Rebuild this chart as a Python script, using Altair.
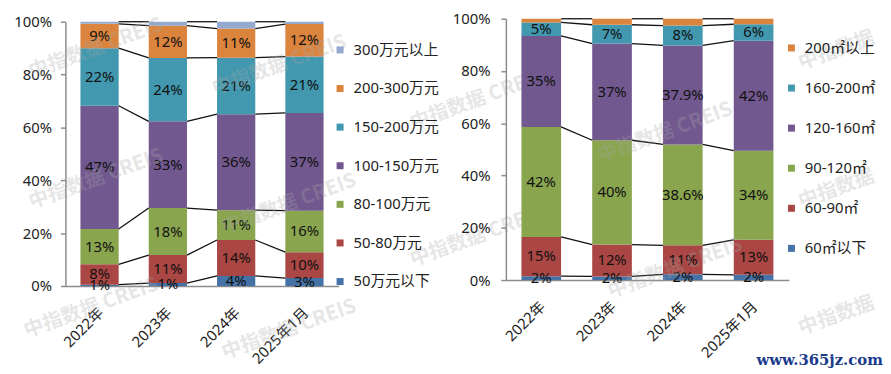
import altair as alt
import pandas as pd

FONT = "Noto Sans, Noto Sans CJK SC"
CJK = "Noto Sans CJK SC"

years = ["2022年", "2023年", "2024年", "2025年1月"]

# ---- left panel: total price segments (bottom -> top) ----
price_cats = ["50万元以下", "50-80万元", "80-100万元", "100-150万元",
              "150-200万元", "200-300万元", "300万元以上"]
price_colors = ["#4572A7", "#AA4643", "#89A54E", "#71588F",
                "#4198AF", "#DB843D", "#93A9CF"]
price_under50 = [0.5, 1.1, 3.8, 3.0]
price_50_80 = [7.7, 10.6, 13.6, 9.8]
price_80_100 = [13.4, 17.8, 11.3, 15.7]
price_100_150 = [46.6, 32.8, 36.3, 37.0]
price_150_200 = [21.8, 24.0, 21.4, 21.3]
price_200_300 = [9.2, 12.2, 11.0, 12.3]
price_over300 = [0.8, 1.5, 2.6, 0.9]
price_labels = [
    ["1%", "1%", "4%", "3%"],
    ["8%", "11%", "14%", "10%"],
    ["13%", "18%", "11%", "16%"],
    ["47%", "33%", "36%", "37%"],
    ["22%", "24%", "21%", "21%"],
    ["9%", "12%", "11%", "12%"],
    ["", "", "", ""],
]

# ---- right panel: floor area segments (bottom -> top) ----
area_cats = ["60㎡以下", "60-90㎡", "90-120㎡", "120-160㎡", "160-200㎡", "200㎡以上"]
area_colors = ["#4572A7", "#AA4643", "#89A54E", "#71588F", "#4198AF", "#DB843D"]
area_under60 = [1.5, 1.4, 2.2, 2.0]
area_60_90 = [15.0, 12.2, 11.1, 13.4]
area_90_120 = [42.1, 39.9, 38.6, 34.1]
area_120_160 = [34.8, 37.0, 37.9, 42.1]
area_160_200 = [5.2, 7.2, 7.6, 6.3]
area_over200 = [1.4, 2.3, 2.6, 2.1]
area_labels = [
    ["2%", "2%", "2%", "2%"],
    ["15%", "12%", "11%", "13%"],
    ["42%", "40%", "38.6%", "34%"],
    ["35%", "37%", "37.9%", "42%"],
    ["5%", "7%", "8%", "6%"],
    ["", "", "", ""],
]

price_series = [price_under50, price_50_80, price_80_100, price_100_150,
                price_150_200, price_200_300, price_over300]
area_series = [area_under60, area_60_90, area_90_120, area_120_160,
               area_160_200, area_over200]

HALF = 0.28  # half bar width in category units
AXIS_COLOR = "#8C8C8C"


def build_tables(cats, series, labels):
    rows, lines = [], []
    n = len(years)
    tops = []
    cum = [0.0] * n
    for k, cat in enumerate(cats):
        t = []
        for i in range(n):
            start = cum[i]
            end = cum[i] + series[k][i]
            cum[i] = end
            t.append(end)
            rows.append({"idx": i, "cat": cat, "start": start, "end": end,
                         "mid": (start + end) / 2, "label": labels[k][i],
                         "x0": i - HALF, "x1": i + HALF})
        tops.append(t)
    for k, cat in enumerate(cats):
        for i in range(n - 1):
            lines.append({"cat": cat, "xa": i + HALF, "xb": i + 1 - HALF,
                          "ya": tops[k][i], "yb": tops[k][i + 1]})
    return pd.DataFrame(rows), pd.DataFrame(lines)


def watermark(text, x, y, size=20):
    return alt.Chart(pd.DataFrame({"t": [text]})).mark_text(
        angle=340, font=CJK, fontSize=size, fontWeight="bold",
        color="#a8a8a8", opacity=0.28
    ).encode(x=alt.value(x), y=alt.value(y), text="t:N")


def panel(cats, colors, series, labels, width, height, yrange,
          legend_x, legend_y, row_pad, ylabel_pad, extras):
    bars_df, lines_df = build_tables(cats, series, labels)
    label_expr = "[" + ",".join("'" + y + "'" for y in years) + "][datum.value]"
    xscale = alt.Scale(domain=[-0.5, len(years) - 0.5], nice=False, zero=False)
    yscale = alt.Scale(domain=[0, 100], range=yrange, nice=False)
    xaxis = alt.Axis(values=list(range(len(years))), labelExpr=label_expr,
                     labelAngle=-45, grid=False, ticks=False, title=None,
                     domainColor=AXIS_COLOR, domainWidth=1.5, labelPadding=19,
                     labelOffset=-4,
                     labelFont=FONT, labelFontSize=15, labelColor="#222")
    yaxis = alt.Axis(values=[0, 20, 40, 60, 80, 100],
                     labelExpr="datum.value + '%'", grid=False, title=None,
                     tickSize=5, tickColor=AXIS_COLOR, tickWidth=1.5,
                     domainColor=AXIS_COLOR, domainWidth=1.5,
                     labelPadding=ylabel_pad, labelFont=FONT,
                     labelFontSize=15, labelColor="#222")
    legend = alt.Legend(orient="none", legendX=legend_x, legendY=legend_y,
                        title=None, symbolType="square", symbolSize=50,
                        symbolStrokeWidth=0, labelFont=FONT, labelFontSize=15,
                        labelColor="#222", rowPadding=row_pad, labelOffset=6,
                        padding=0)
    color = alt.Color("cat:N", scale=alt.Scale(domain=cats[::-1], range=colors[::-1]),
                      legend=legend)

    bars = alt.Chart(bars_df).mark_rect().encode(
        x=alt.X("x0:Q", scale=xscale, axis=xaxis),
        x2="x1:Q",
        y=alt.Y("start:Q", scale=yscale, axis=yaxis),
        y2="end:Q",
        color=color,
    )
    rules = alt.Chart(lines_df).mark_rule(color="#111", strokeWidth=1.3).encode(
        x=alt.X("xa:Q", scale=xscale, axis=xaxis), x2="xb:Q",
        y=alt.Y("ya:Q", scale=yscale, axis=yaxis), y2="yb:Q",
    )
    texts = alt.Chart(bars_df[bars_df["label"] != ""]).mark_text(
        font=FONT, fontSize=15, color="#111"
    ).encode(
        x=alt.X("idx:Q", scale=xscale, axis=xaxis),
        y=alt.Y("mid:Q", scale=yscale, axis=yaxis),
        text="label:N",
    )
    return alt.layer(bars, rules, texts, *extras).properties(width=width, height=height)


left_marks = [
    watermark("中指数据 CREIS", 31, 30),
    watermark("中指数据 CREIS", 31, 162),
    watermark("中指数据 CREIS", 26, 292),
    watermark("中指数据 CREIS", 226, 314),
    watermark("中指数据 CREIS", 216, 47),
    watermark("中指数据 CREIS", 226, 187),
    watermark("中指数据 CREIS", 416, 82),
    watermark("中指数据 CREIS", 416, 220),
]
right_marks = [
    watermark("中指数据 CREIS", 161, 115),
    watermark("中指数据 CREIS", 171, 252),
    watermark("中指数据", 334, 32),
    watermark("中指数据", 334, 172),
    watermark("中指数据", 334, 300),
    alt.Chart(pd.DataFrame({"t": ["www.365jz.com"]})).mark_text(
        font="DejaVu Serif", fontSize=15, fontWeight="bold", color="#1B3C8C"
    ).encode(x=alt.value(317), y=alt.value(345), text="t:N"),
]

left = panel(price_cats, price_colors, price_series, price_labels,
             276, 270, [270, 3], 270, 24, 23, 9, left_marks)
right = panel(area_cats, area_colors, area_series, area_labels,
              286, 264, [264, 0], 281, 22, 24.5, 11, right_marks)

chart = alt.hconcat(left, right, spacing=169, bounds="flush").resolve_scale(
    color="independent"
).properties(
    padding={"left": 5, "top": 2, "right": 0, "bottom": 0}
).configure_view(stroke=None)

chart.save("out.html", embed_options={"renderer": "svg", "actions": False})
